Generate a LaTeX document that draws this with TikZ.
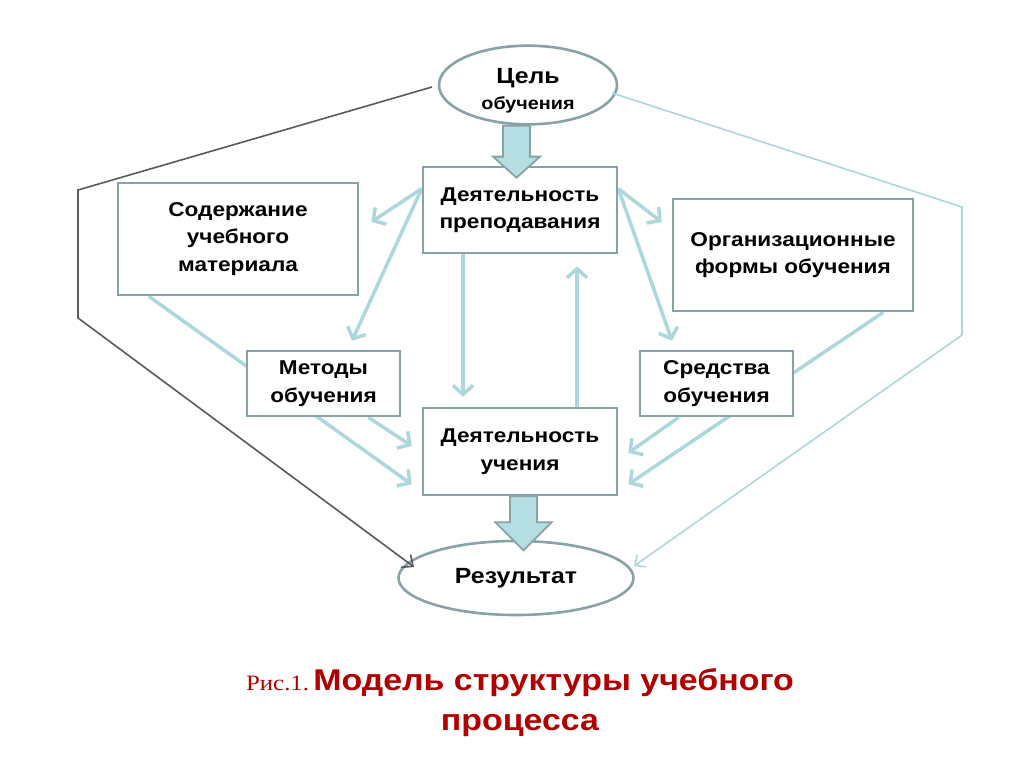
\documentclass[tikz,border=0pt]{standalone}
\usepackage{fontspec}
\setmainfont[FakeStretch=1.13]{Liberation Sans}
\newfontfamily\serifcap[FakeStretch=1.13]{Liberation Serif}
\usetikzlibrary{arrows.meta,backgrounds,calc,shapes.geometric}
\pgfdeclarelayer{bottom}
\pgfsetlayers{bottom,background,main}
\definecolor{boxc}{RGB}{135,163,166}
\definecolor{arrc}{RGB}{172,216,220}
\definecolor{blkc}{RGB}{180,222,226}
\definecolor{darkc}{RGB}{90,90,90}
\definecolor{capc}{RGB}{178,0,0}
\begin{document}
\begin{tikzpicture}[x=1pt,y=-1pt,
  box/.style={rectangle,draw=boxc,line width=2.6pt,fill=white,align=center,
    font=\fontsize{20}{27.5}\selectfont\bfseries,inner sep=0pt},
  ell/.style={ellipse,draw=boxc,line width=2.6pt,fill=white,align=center,inner sep=0pt},
  link/.style={draw=arrc,line width=3.5pt},
  arr/.style={link,-{Straight Barb[length=9pt,width=20pt]}},
  thinarr/.style={draw=arrc,line width=1.6pt,-{Straight Barb[length=8pt,width=15pt]}},
  darkarr/.style={draw=darkc,line width=1.6pt,-{Straight Barb[length=9pt,width=16pt]}},
  blk/.style={draw=boxc,line width=1.8pt,fill=blkc,line join=miter}]
\begin{pgfonlayer}{bottom}
\fill[white] (0,0) rectangle (1024,767);
\end{pgfonlayer}
\useasboundingbox (0,0) rectangle (1024,767);

% nodes
\node[ell,minimum width=178pt,minimum height=78pt,font=\fontsize{17.5}{26}\selectfont\bfseries] (goal) at (528,85)
  {\rule{0pt}{26pt}{\fontsize{22}{26}\selectfont Цель}\\обучения};
\node[box,minimum width=194pt,minimum height=86pt] (prep) at (520,210) {Деятельность\\преподавания};
\node[box,minimum width=240pt,minimum height=112pt] (sod) at (238,239) {Содержание\\учебного\\материала};
\node[box,minimum width=240pt,minimum height=112pt] (org) at (793,255) {Организационные\\формы обучения};
\node[box,minimum width=153pt,minimum height=65pt] (met) at (323.5,383.5) {Методы\\обучения};
\node[box,minimum width=153pt,minimum height=65pt] (sred) at (716.5,383.5) {Средства\\обучения};
\node[box,minimum width=194pt,minimum height=87pt] (uch) at (520,451.5) {Деятельность\\учения};
\node[ell,minimum width=235pt,minimum height=74pt,font=\fontsize{22}{25}\selectfont\bfseries] (res) at (516,578) {Результат};

% caption
\node[anchor=base,text=capc] (cap1) at (520,690)
  {{\serifcap\fontsize{22}{26}\selectfont Рис.1.} {\fontsize{30}{36}\selectfont\bfseries Модель структуры учебного}};
\node[anchor=base,text=capc,font=\fontsize{30}{36}\selectfont\bfseries] (cap2) at (520,730) {процесса};

% anchor coordinates
\coordinate (pL) at ([yshift=-23pt]prep.north west);
\coordinate (pR) at ([yshift=-23pt]prep.north east);
\coordinate (sodT) at ([xshift=12pt,yshift=17pt]sod.east);
\coordinate (metT) at ([xshift=28.5pt,yshift=9pt]met.north);
\coordinate (orgT) at ([xshift=-10pt,yshift=33pt]org.west);
\coordinate (sredT) at ([xshift=-44.5pt,yshift=9pt]sred.north);
\coordinate (pB) at ([xshift=-57pt]prep.south);
\coordinate (uT1) at ([xshift=-57pt,yshift=10pt]uch.north);
\coordinate (uT2) at ([xshift=57pt]uch.north);
\coordinate (pB2) at ([xshift=57pt,yshift=-12pt]prep.south);
\coordinate (sodB) at ([xshift=32pt]sod.south west);
\coordinate (uL2) at ([xshift=-10pt,yshift=12pt]uch.south west);
\coordinate (metB) at ([xshift=-33pt]met.south east);
\coordinate (uL1) at ([xshift=-10pt,yshift=5.5pt]uch.west);
\coordinate (orgB) at ([xshift=-31pt]org.south east);
\coordinate (uR2) at ([xshift=10pt,yshift=12pt]uch.south east);
\coordinate (sredB) at ([xshift=40pt]sred.south west);
\coordinate (uR1) at ([xshift=10pt,yshift=-1.5pt]uch.east);
\coordinate (gR) at (612,93);
\coordinate (bR1) at (962,207);
\coordinate (bR2) at (962,335);
\coordinate (rR) at (634,566);
\coordinate (gL) at (432,87);
\coordinate (bL1) at (78,190);
\coordinate (bL2) at (78,318);
\coordinate (rL) at (414,567);

% thick connectors behind boxes
\begin{scope}[on background layer]
  \draw[arr] (pL) -- (sodT);
  \draw[arr] (pL) -- (metT);
  \draw[arr] (pR) -- (orgT);
  \draw[arr] (pR) -- (sredT);
  \draw[arr] (pB) -- (uT1);
  \draw[arr] (uT2) -- (pB2);
  \draw[arr] (sodB) -- (uL2);
  \draw[arr] (metB) -- (uL1);
  \draw[arr] (orgB) -- (uR2);
  \draw[arr] (sredB) -- (uR1);
\end{scope}

% thin outer connectors
\draw[thinarr] (gR) -- (bR1) -- (bR2) -- (rR);
\draw[darkarr] (gL) -- (bL1) -- (bL2) -- (rL);

% block arrows
\coordinate (ta) at ([xshift=-11.5pt]goal.south);
\draw[blk] ([xshift=-13.5pt]ta) -- ++(27,0) -- ++(0,31) -- ++(10,0) -- ++(-23.5,21) -- ++(-23.5,-21) -- ++(10,0) -- cycle;
\coordinate (ba) at ([xshift=3.5pt]uch.south);
\draw[blk] ([xshift=-13.5pt]ba) -- ++(27,0) -- ++(0,26) -- ++(14.5,0) -- ++(-28,28) -- ++(-28,-28) -- ++(14.5,0) -- cycle;
\end{tikzpicture}
\end{document}
